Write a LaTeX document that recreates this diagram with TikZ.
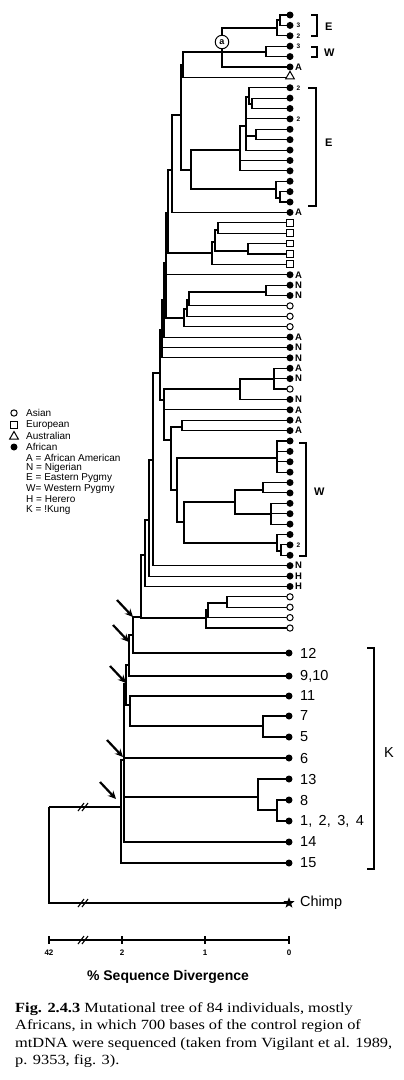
\documentclass[tikz,border=0pt]{standalone}
\usepackage{fontspec}
\setmainfont{Liberation Serif}
\setsansfont{Liberation Sans}
\usetikzlibrary{shapes.geometric,arrows.meta}
\newcommand\kids[2]{\foreach \c in {#2}{\draw[tree] (#1) |- (\c);}}
\newcommand\capline[1]{\scalebox{1.17}[1]{#1}}
\begin{document}
\begin{tikzpicture}[x=1pt,y=-1pt,
  tree/.style={line width=1.1pt},
  dot/.style={circle,fill=black,inner sep=0pt,minimum size=7pt},
  opendot/.style={circle,draw,line width=1pt,fill=white,inner sep=0pt,minimum size=6.3pt},
  sq/.style={rectangle,draw,line width=1pt,fill=white,inner sep=0pt,minimum size=6.8pt},
  tri/.style={regular polygon,regular polygon sides=3,draw,line width=1pt,fill=white,inner sep=0pt,minimum size=10pt},
  lbl/.style={font=\sffamily\bfseries\fontsize{9.5}{9.5}\selectfont,inner sep=0pt,anchor=west},
  sml/.style={font=\sffamily\bfseries\fontsize{6.5}{6.5}\selectfont,inner sep=0pt,anchor=west},
  klbl/.style={font=\sffamily\fontsize{14.5}{14.5}\selectfont,inner sep=0pt,anchor=west},
  grp/.style={font=\sffamily\bfseries\fontsize{11}{11}\selectfont,inner sep=0pt,anchor=west},
  leg/.style={font=\sffamily\fontsize{10}{10}\selectfont,inner sep=0pt,anchor=west},
  axl/.style={font=\sffamily\bfseries\fontsize{8}{8}\selectfont,inner sep=0pt},
  captxt/.style={font=\fontsize{14}{14}\selectfont,inner sep=0pt,anchor=base west},
  brk/.style={line width=1.1pt},
  pointer/.style={line width=2.2pt,-{Stealth[length=8pt,width=7.5pt]}}]
\fill[white] (0,0) rectangle (404,1080);
\useasboundingbox (0,0) rectangle (404,1080);

% leaves
\foreach \i in {1,...,60}{\coordinate (l\i) at (290,{15+(\i-1)*10.39});}
\coordinate (k12) at (289,653);
\coordinate (k910) at (289,676);
\coordinate (k11) at (289,696);
\coordinate (k7) at (289,716);
\coordinate (k5) at (289,737);
\coordinate (k6) at (289,758);
\coordinate (k13) at (289,779);
\coordinate (k8) at (289,800);
\coordinate (k1234) at (289,821);
\coordinate (k14) at (289,842);
\coordinate (k15) at (289,863);
\coordinate (chimp) at (289,903);

% internal nodes
\coordinate (e1) at (280,20);
\coordinate (e2) at (277,28);
\coordinate (wp) at (266,52);
\coordinate (a) at (222,52);
\coordinate (p1) at (183,65);
\coordinate (Ed) at (252,104);
\coordinate (Eb) at (249,97);
\coordinate (Ec) at (256,136);
\coordinate (Ea) at (246,126);
\coordinate (Eup) at (240,150);
\coordinate (Eg) at (280,198);
\coordinate (Ef) at (276,189);
\coordinate (p3) at (191,170);
\coordinate (p2) at (181,115);
\coordinate (p4) at (172,170);
\coordinate (Eu1) at (218,230);
\coordinate (Eu2) at (248,251);
\coordinate (Eu3) at (215,242);
\coordinate (EuR) at (212,253);
\coordinate (p5) at (168,213);
\coordinate (np) at (266,292);
\coordinate (qa) at (189,300);
\coordinate (qb) at (187,309);
\coordinate (qc) at (184,318);
\coordinate (p6) at (166,263);
\coordinate (p7) at (164,300);
\coordinate (p8) at (162,330);
\coordinate (n274) at (274,379);
\coordinate (n240) at (240,389);
\coordinate (AA) at (182,427);
\coordinate (W4) at (277,458);
\coordinate (n263) at (263,490);
\coordinate (n272) at (271,514);
\coordinate (n235) at (235,502);
\coordinate (W3a) at (281,551);
\coordinate (W3) at (277,543);
\coordinate (Wmid) at (184,522);
\coordinate (Wtop) at (177,490);
\coordinate (p11) at (171,440);
\coordinate (p10) at (164,400);
\coordinate (p9) at (160,373);
\coordinate (L1) at (153,460);
\coordinate (L2) at (149,520);
\coordinate (L3) at (145,555);
\coordinate (As1) at (227,603);
\coordinate (As2) at (208,610);
\coordinate (As3) at (206,618);
\coordinate (L4) at (141,617);
\coordinate (K1) at (133,635);
\coordinate (K2) at (129,665);
\coordinate (Kx) at (130,705);
\coordinate (K3) at (126,684);
\coordinate (k75) at (263,726);
\coordinate (k81) at (277,810);
\coordinate (k13n) at (258,797);
\coordinate (K4) at (124,760);
\coordinate (K5) at (121,807);
\coordinate (root) at (49,807);

% branches
\kids{e1}{l1,l2}
\kids{e2}{e1,l3}
\kids{wp}{l4,l5}
\kids{a}{e2,wp,l6}
\kids{p1}{a,l7}
\kids{Ed}{l9,l10}
\kids{Eb}{l8,Ed}
\kids{Ec}{l12,l13}
\kids{Ea}{Eb,l11,Ec,l14}
\kids{Eup}{Ea,l15,l16}
\kids{Eg}{l18,l19}
\kids{Ef}{l17,Eg}
\kids{p3}{Eup,Ef}
\kids{p2}{p1,p3}
\kids{p4}{p2,l20}
\kids{Eu1}{l21,l22}
\kids{Eu2}{l23,l24}
\kids{Eu3}{Eu1,Eu2}
\kids{EuR}{Eu3,l25}
\kids{p5}{p4,EuR}
\kids{np}{l27,l28}
\kids{qa}{np,l29}
\kids{qb}{qa,l30}
\kids{qc}{qb,l31}
\kids{p6}{p5,l26,qc}
\kids{p7}{p6,l32}
\kids{p8}{p7,l33,l34}
\kids{n274}{l35,l36,l37}
\kids{n240}{n274,l38}
\kids{AA}{l40,l41}
\kids{W4}{l42,l43,l44,l45}
\kids{n263}{l46,l47}
\kids{n272}{l48,l49,l50}
\kids{n235}{n263,n272}
\kids{W3a}{l52,l53}
\kids{W3}{l51,W3a}
\kids{Wmid}{n235,W3}
\kids{Wtop}{W4,Wmid}
\kids{p11}{AA,Wtop}
\kids{p10}{n240,l39,p11}
\kids{p9}{p8,p10}
\kids{L1}{p9,l54}
\kids{L2}{L1,l55}
\kids{L3}{L2,l56}
\kids{As1}{l57,l58}
\kids{As2}{As1,l59}
\kids{As3}{As2,l60}
\kids{L4}{L3,As3}
\kids{K1}{L4,k12}
\kids{K2}{K1,k910}
\kids{k75}{k7,k5}
\kids{Kx}{k11,k75}
\kids{K3}{K2,Kx}
\kids{k81}{k8,k1234}
\kids{k13n}{k13,k81}
\kids{K4}{K3,k6,k13n,k14}
\kids{K5}{K4,k15}
\kids{root}{K5,chimp}

% circled node a
\node[circle,draw,line width=1pt,fill=white,inner sep=0pt,minimum size=13.5pt,font=\sffamily\bfseries\fontsize{9}{9}\selectfont] (acirc) at (222,42) {a};

% leaf symbols
\foreach \i in {1,...,6}{\node[dot] (s\i) at (l\i) {};}
\foreach \i in {8,...,20}{\node[dot] (s\i) at (l\i) {};}
\foreach \i in {26,27,28,32,33,34,35,36}{\node[dot] (s\i) at (l\i) {};}
\foreach \i in {38,...,56}{\node[dot] (s\i) at (l\i) {};}
\foreach \i in {21,...,25}{\node[sq] (s\i) at (l\i) {};}
\foreach \i in {29,30,31,37,57,58,59,60}{\node[opendot] (s\i) at (l\i) {};}
\node[tri] (s7) at ([yshift=1pt]l7) {};
\foreach \k in {k12,k910,k11,k7,k5,k6,k13,k8,k1234,k14,k15}{\node[dot] (s\k) at (\k) {};}
\node[star,star points=5,star point ratio=2.4,fill=black,inner sep=0pt,minimum size=11.5pt] (schimp) at (chimp) {};

% leaf labels
\foreach \i/\t in {6/A,20/A,26/A,32/A,35/A,39/A,40/A,41/A,27/N,28/N,33/N,34/N,36/N,38/N,54/N,55/H,56/H}{\node[lbl] (t\i) at ([xshift=5pt]l\i) {\t};}
\foreach \i/\t in {2/3,3/2,4/3,8/2,11/2,52/2}{\node[sml] (nm\i) at ([xshift=6.5pt]l\i) {\t};}
\node[klbl] (tk12) at (300,653) {12};
\node[klbl] (tk910) at (300,676) {9,10};
\node[klbl] (tk11) at (300,696) {11};
\node[klbl] (tk7) at (300,716) {7};
\node[klbl] (tk5) at (300,737) {5};
\node[klbl] (tk6) at (300,758) {6};
\node[klbl] (tk13) at (300,779) {13};
\node[klbl] (tk8) at (300,800) {8};
\node[klbl] (tk1234) at (300,821) {1,\ \,2,\ \,3,\ \,4};
\node[klbl] (tk14) at (300,842) {14};
\node[klbl] (tk15) at (300,863) {15};
\node[klbl] (tchimp) at (300,903) {Chimp};

% brackets
\draw[tree] (311,15) -- (317,15) -- (317,36) -- (311,36);
\node[grp] (gE1) at (325,27) {E};
\draw[tree] (311,47) -- (317,47) -- (317,57) -- (311,57);
\node[grp] (gW1) at (324,53) {W};
\draw[tree] (308,88) -- (316,88) -- (316,206) -- (308,206);
\node[grp] (gE2) at (325,143) {E};
\draw[tree] (299,443) -- (306,443) -- (306,556) -- (299,556);
\node[grp] (gW2) at (314,492) {W};
\draw[tree] (367,648) -- (374,648) -- (374,869) -- (367,869);
\node[klbl] (gK) at (384,753) {K};

% arrows pointing at basal nodes
\foreach \n/\tx/\ty in {1/133/617,2/129/642,3/126/683,4/123/757,5/116/799}{
  \coordinate (ah\n) at (\tx,\ty);
  \coordinate (at\n) at ({\tx-16},{\ty-17});
  \draw[pointer] (at\n) -- (ah\n);
}

% break marks
\foreach \y in {807,903}{
  \draw[brk] (78,{\y+4}) -- (84,{\y-4});
  \draw[brk] (82,{\y+4}) -- (88,{\y-4});
}

% axis
\coordinate (axL) at (49,940);
\coordinate (axR) at (289,940);
\draw[tree] (axL) -- (axR);
\draw[brk] (78,944) -- (84,936);
\draw[brk] (82,944) -- (88,936);
\foreach \x/\t in {49/42,122/2,205/1,289/0}{
  \draw[tree] (\x,936) -- (\x,944);
  \node[axl] (axl\t) at (\x,953) {\t};
}
\node[font=\sffamily\bfseries\fontsize{14}{14}\selectfont,inner sep=0pt] (xtitle) at (168,977) {\% Sequence Divergence};

% legend
\node[opendot] (lg1) at (14,413) {};
\node[leg] (lt1) at (26,413) {Asian};
\node[sq] (lg2) at (14,425) {};
\node[leg] (lt2) at (26,425) {European};
\node[tri] (lg3) at (14,436.5) {};
\node[leg] (lt3) at (26,436) {Australian};
\node[dot] (lg4) at (14,447) {};
\node[leg] (lt4) at (26,447) {African};
\node[leg] (lt5) at (26,457.5) {A = African American};
\node[leg] (lt6) at (26,468) {N = Nigerian};
\node[leg] (lt7) at (26,478.5) {E = Eastern Pygmy};
\node[leg] (lt8) at (26,489) {W= Western Pygmy};
\node[leg] (lt9) at (26,499.5) {H = Herero};
\node[leg] (lt10) at (26,510) {K = !Kung};

% caption
\node[captxt] (c1) at (15,1012) {\capline{\textbf{Fig. 2.4.3} Mutational tree of 84 individuals, mostly}};
\node[captxt] (c2) at (15,1029.5) {\capline{Africans, in which 700 bases of the control region of}};
\node[captxt] (c3) at (15,1047) {\capline{mtDNA were sequenced (taken from Vigilant et al. 1989,}};
\node[captxt] (c4) at (15,1064.5) {\capline{p. 9353, fig. 3).}};
\end{tikzpicture}
\end{document}
